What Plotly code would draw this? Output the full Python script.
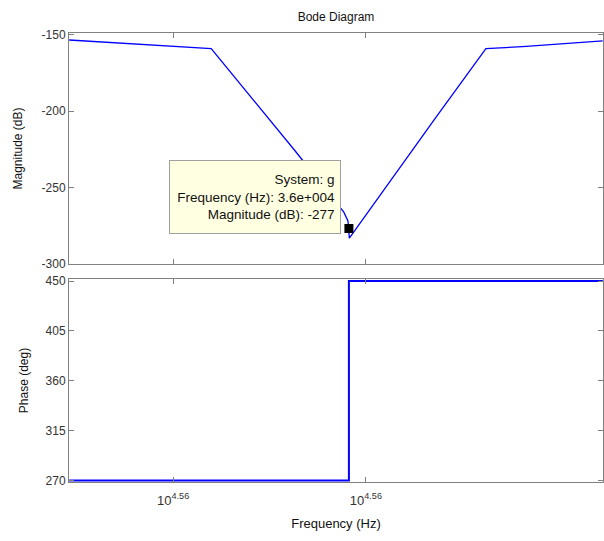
import math
import plotly.graph_objects as go

# ---- data ----
mag_freq_hz = [35670, 35822, 35974, 36154, 36260, 36269, 36272, 36458, 36569, 36649, 36752, 36825]
mag_db = [-153.3, -156.2, -159.0, -225.8, -266.3, -272.0, -283.3, -204.9, -159.0, -157.6, -155.4, -153.9]

phase_freq_hz = [35670, 36271, 36271, 36825]
phase_deg = [270, 270, 450, 450]

tip_freq_hz = 36271
tip_mag_db = -277
tip_text = ["System: g", "Frequency (Hz): 3.6e+004", "Magnitude (dB): -277"]

x_tick_vals = [10 ** 4.555, 10 ** 4.56]
x_tick_text = ["10<sup>4.56</sup>", "10<sup>4.56</sup>"]
mag_ticks = [-150, -200, -250, -300]
mag_tick_text = ["-150", "-200", "-250", "-300"]
phase_ticks = [270, 315, 360, 405, 450]

FONT = "Arial, 'Liberation Sans', sans-serif"
GREY = "#808080"
TXT = "#333333"

fig = go.Figure()
fig.add_trace(go.Scatter(x=mag_freq_hz, y=mag_db, mode="lines",
                         line=dict(color="#0000ff", width=1.3),
                         xaxis="x2", yaxis="y2", showlegend=False, hoverinfo="skip"))
fig.add_trace(go.Scatter(x=[tip_freq_hz], y=[tip_mag_db], mode="markers",
                         marker=dict(symbol="square", color="black", size=9),
                         xaxis="x2", yaxis="y2", showlegend=False, hoverinfo="skip"))
fig.add_trace(go.Scatter(x=phase_freq_hz, y=phase_deg, mode="lines",
                         line=dict(color="#0000ff", width=2),
                         xaxis="x", yaxis="y", showlegend=False, hoverinfo="skip"))

xr = [4.5523, 4.56615]
common_x = dict(type="log", range=xr, showline=True, linecolor=GREY, linewidth=1,
                mirror="ticks", ticks="inside", ticklen=5, tickcolor=GREY,
                tickvals=x_tick_vals, ticktext=x_tick_text, showgrid=False,
                zeroline=False, automargin=False)
common_y = dict(showline=True, linecolor=GREY, linewidth=1, mirror="ticks",
                ticks="inside", ticklen=5, tickcolor=GREY, showgrid=False,
                zeroline=False, automargin=False,
                tickfont=dict(size=12, color=TXT, family=FONT))

fig.update_layout(
    width=604, height=541,
    margin=dict(l=69, r=1, t=33, b=59),
    plot_bgcolor="white", paper_bgcolor="white",
    font=dict(family=FONT, size=12, color=TXT),
    title=dict(text="Bode Diagram", x=0.5, xref="paper", y=1 - 17 / 541,
               yanchor="middle", xanchor="center", automargin=False,
               font=dict(size=12, color="#111111", family=FONT)),
    xaxis=dict(**common_x, domain=[0, 1], anchor="y",
               tickfont=dict(size=13, color=TXT, family=FONT),
               ticklabelstandoff=6,
               title=dict(text="Frequency (Hz)", standoff=12,
                          font=dict(size=13, color="#111111", family=FONT))),
    xaxis2=dict(**common_x, domain=[0, 1], anchor="y2", matches="x",
                showticklabels=False),
    yaxis=dict(**common_y, domain=[0, 0.452], range=[268.6, 451.8],
               tickvals=phase_ticks,
               title=dict(text="Phase (deg)", standoff=14,
                          font=dict(size=12, color="#111111", family=FONT))),
    yaxis2=dict(**common_y, domain=[0.4855, 1], range=[-300.3, -148.7],
                tickvals=mag_ticks, ticktext=mag_tick_text,
                title=dict(text="Magnitude (dB)", standoff=16,
                           font=dict(size=12, color="#111111", family=FONT))),
)

fig.add_annotation(
    x=math.log10(tip_freq_hz), y=tip_mag_db, xref="x2", yref="y2",
    text="<br>".join(tip_text), showarrow=False, align="right", valign="middle",
    xanchor="right", yanchor="bottom", xshift=-8, yshift=-5,
    width=160, height=62,
    bgcolor="#ffffe1", bordercolor="#a0a0a0", borderwidth=1, borderpad=5,
    font=dict(size=13.5, color="#111111", family=FONT),
)

fig.write_html("out.html", config={"displayModeBar": False, "staticPlot": True},
               post_script="document.body.style.margin='0';document.body.style.overflow='hidden';")
